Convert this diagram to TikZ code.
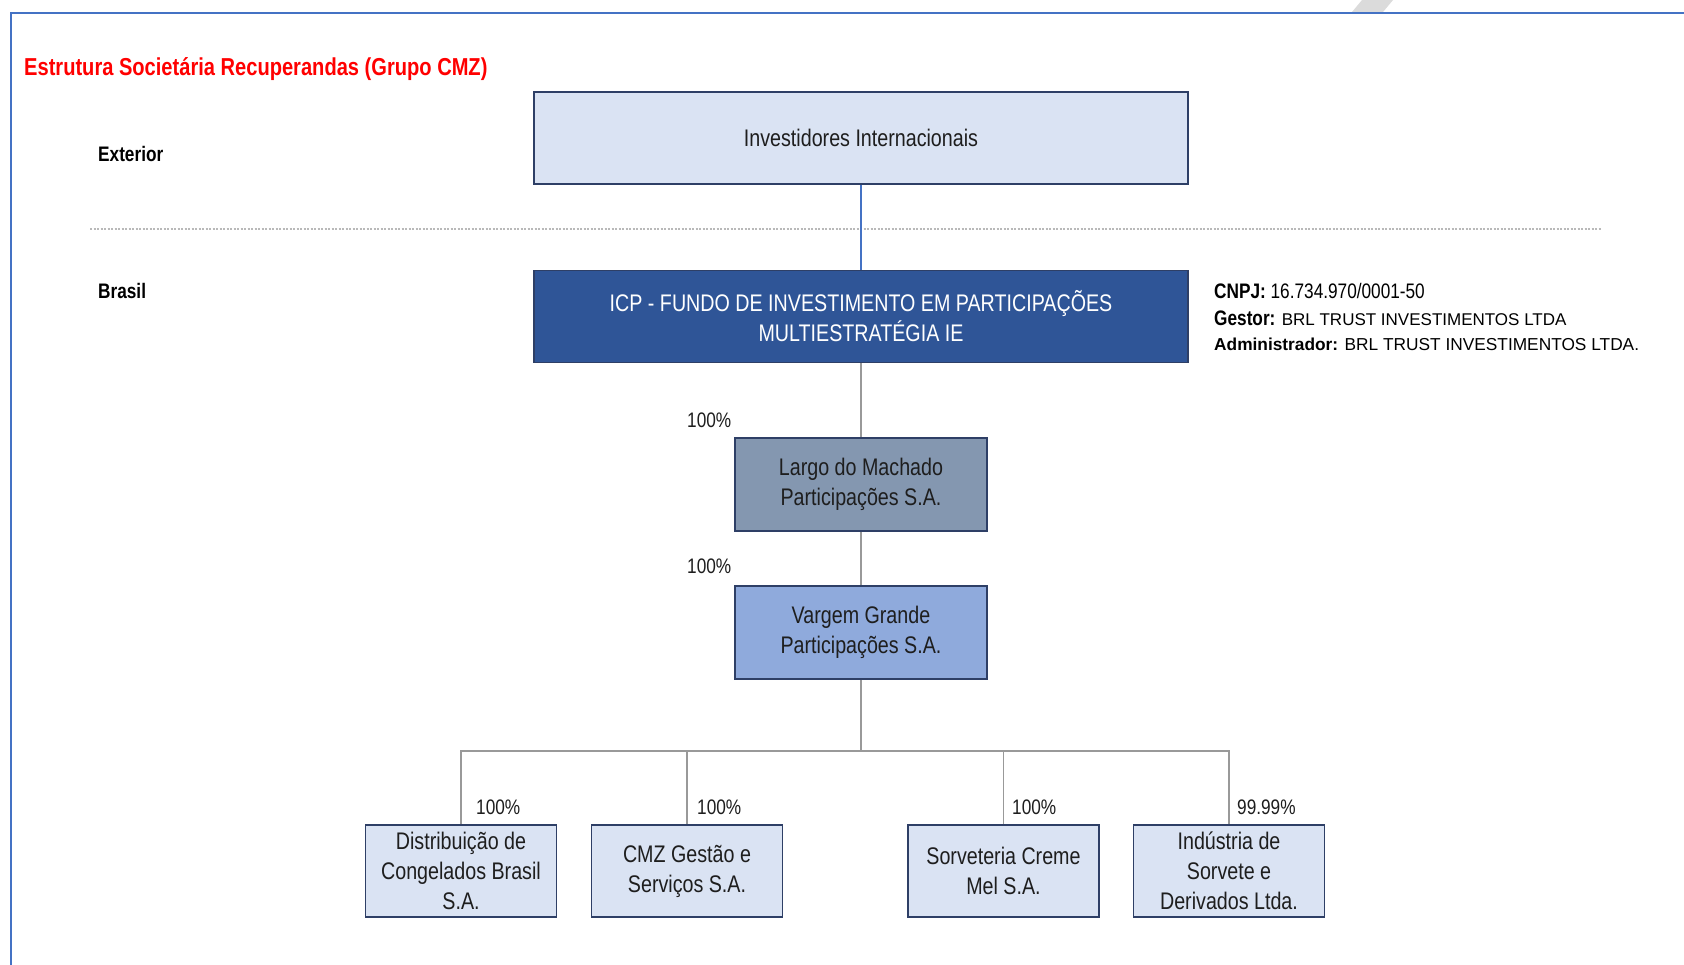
\documentclass[tikz,border=0pt]{standalone}
\usepackage{fontspec}
\setmainfont{Liberation Sans}
\newfontfamily\narrow[FakeStretch=0.82]{Liberation Sans}
\definecolor{framec}{HTML}{4472C4}
\definecolor{lightbox}{HTML}{DAE3F3}
\definecolor{darkbox}{HTML}{2F5597}
\definecolor{graybox}{HTML}{8497B0}
\definecolor{midbox}{HTML}{8FAADC}
\definecolor{boxline}{HTML}{2E3F66}
\definecolor{conn}{HTML}{999999}
\definecolor{txt}{HTML}{1E1E1E}
\definecolor{titlered}{HTML}{FF0000}
\tikzset{
  orgbox/.style={draw=boxline, line width=1.8pt, rectangle, inner sep=0pt, align=center,
    text=txt, font=\narrow\fontsize{24}{30}\selectfont},
  bigbox/.style={orgbox, minimum width=654pt, minimum height=92pt},
  midsize/.style={orgbox, minimum width=252pt, minimum height=93pt},
  smallbox/.style={orgbox, fill=lightbox, minimum width=191pt, minimum height=92pt},
  pct/.style={anchor=west, inner sep=0pt, text=txt, font=\narrow\fontsize{21}{25}\selectfont},
  region/.style={anchor=west, inner sep=0pt, text=black, font=\narrow\bfseries\fontsize{21}{25}\selectfont},
  sideinfo/.style={anchor=base west, inner sep=0pt, text=black},
  connector/.style={draw=conn, line width=1.8pt},
}
\begin{document}
\begin{tikzpicture}[x=1pt,y=-1pt]
\useasboundingbox[fill=white] (0,0) rectangle (1684,965);
% watermark fragment and frame
\fill[gray!28] (1362,0) -- (1393,0) -- (1383,12) -- (1352,12) -- cycle;
\draw[framec, line width=2pt] (11,965) -- (11,13) -- (1684,13);
% title and region labels
\node[anchor=west, inner sep=0pt, text=titlered, font=\narrow\bfseries\fontsize{24.5}{28}\selectfont] (title) at (24,69) {Estrutura Societária Recuperandas (Grupo CMZ)};
\node[region] (exterior) at (98,154) {Exterior};
\node[region] (brasil) at (98,291) {Brasil};
\draw[gray!55, line width=1.6pt, dash pattern=on 2pt off 1.5pt] (90,229) -- (1602,229);
% boxes
\node[bigbox, fill=lightbox] (inv) at (861,138) {Investidores Internacionais};
\node[bigbox, fill=darkbox, text=white] (icp) at (861,316.5) {ICP - FUNDO DE INVESTIMENTO EM PARTICIPAÇÕES\\MULTIESTRATÉGIA IE};
\node[midsize, fill=graybox] (largo) at (861,484.5) {Largo do Machado\\Participações S.A.};
\node[midsize, fill=midbox] (vargem) at (861,632.5) {Vargem Grande\\Participações S.A.};
\node[smallbox] (c1) at (461,871) {Distribuição de\\Congelados Brasil\\S.A.};
\node[smallbox] (c2) at (687,871) {CMZ Gestão e\\Serviços S.A.};
\node[smallbox] (c3) at (1003.5,871) {Sorveteria Creme\\Mel S.A.};
\node[smallbox] (c4) at (1229,871) {Indústria de\\Sorvete e\\Derivados Ltda.};
% side info
\node[sideinfo] (cnpj) at (1214,298.5) {\narrow\fontsize{21}{25}\selectfont\textbf{CNPJ:} 16.734.970/0001-50};
\node[sideinfo] (gestor) at (1214,325.5) {\narrow\fontsize{21}{25}\selectfont\textbf{Gestor:} \normalfont\fontsize{17}{20}\selectfont BRL TRUST INVESTIMENTOS LTDA};
\node[sideinfo] (admin) at (1214,350.5) {\fontsize{17.3}{20}\selectfont\textbf{Administrador:} BRL TRUST INVESTIMENTOS LTDA.};
% connectors
\coordinate (bus) at (861,751);
\draw[framec, line width=1.6pt] (inv.south) -- (icp.north);
\draw[connector] (icp.south) -- (largo.north);
\draw[connector] (largo.south) -- (vargem.north);
\draw[connector] (vargem.south) -- (bus);
\draw[connector] (c1.north) -- (c1.north |- bus) -- (c4.north |- bus) -- (c4.north);
\draw[connector] (c2.north) -- (c2.north |- bus);
\draw[connector] (c3.north) -- (c3.north |- bus);
% percentages
\node[pct] (p1) at (687,420) {100\%};
\node[pct] (p2) at (687,566) {100\%};
\node[pct] (p3) at (476,807) {100\%};
\node[pct] (p4) at (697,807) {100\%};
\node[pct] (p5) at (1012,807) {100\%};
\node[pct] (p6) at (1237,807) {99.99\%};
\end{tikzpicture}
\end{document}
